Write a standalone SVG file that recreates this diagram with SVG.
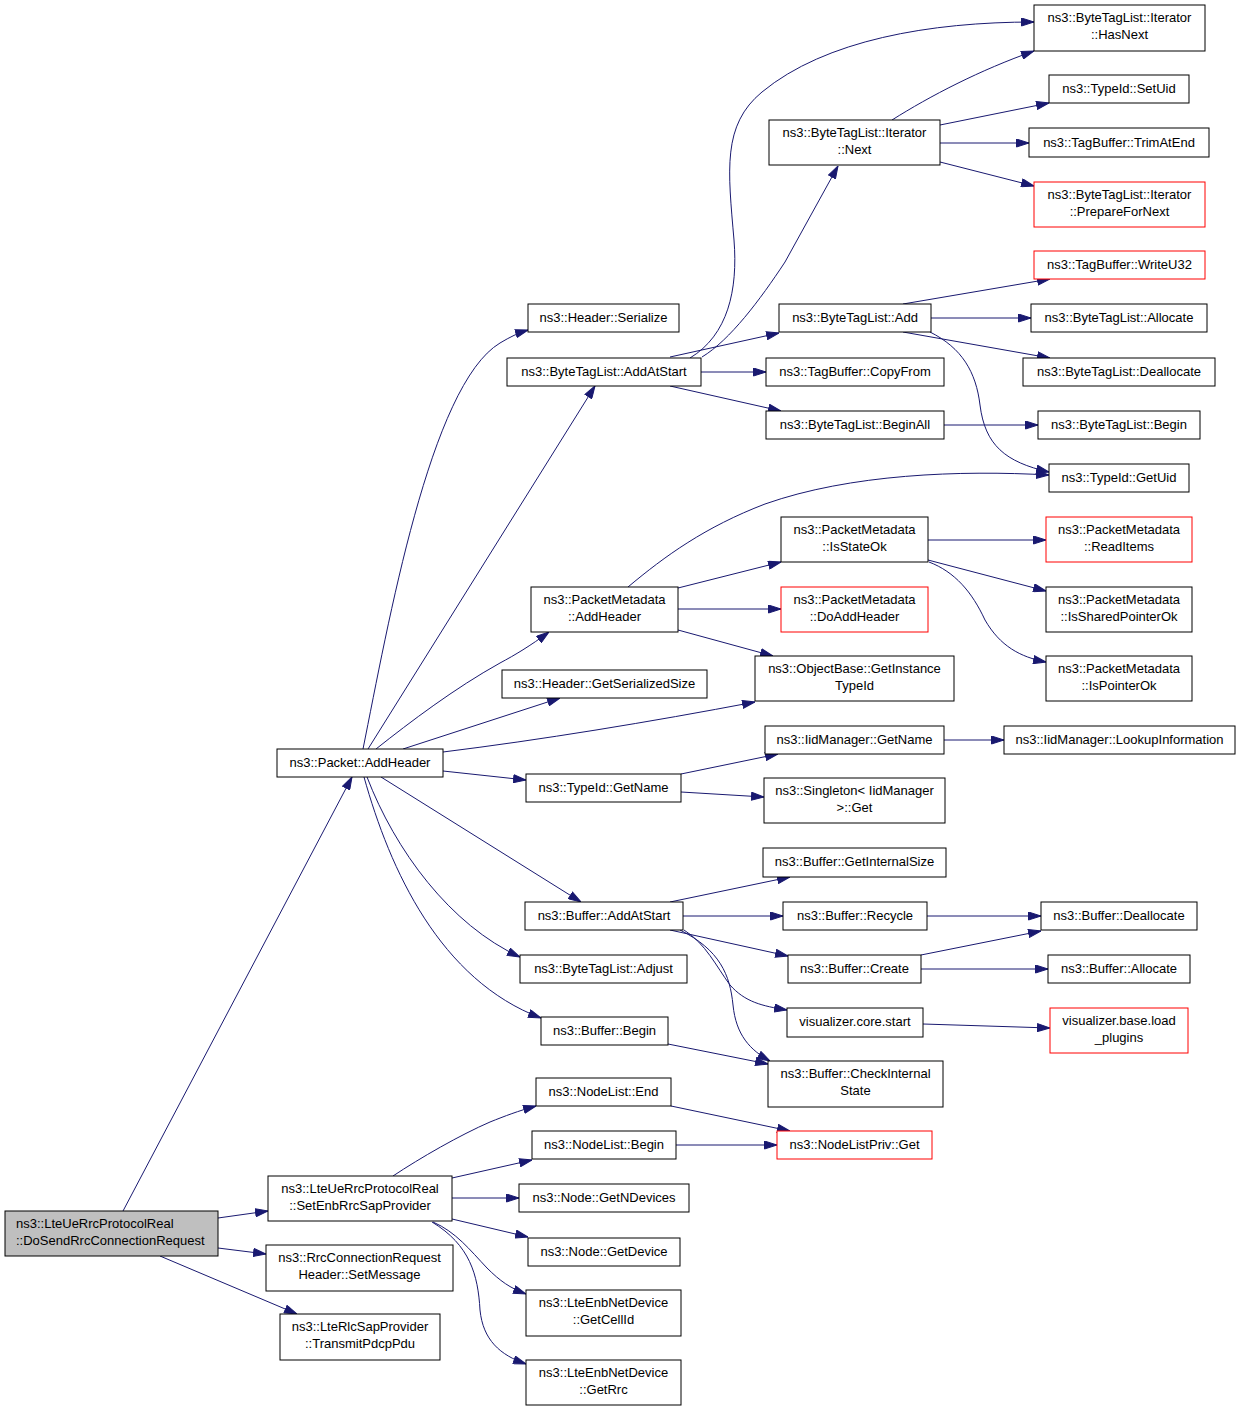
<svg xmlns="http://www.w3.org/2000/svg" width="1240" height="1411" viewBox="0 0 1240 1411">
<style>
.node rect{fill:#ffffff;stroke:#000000;stroke-width:1}
.node.root rect{fill:#bfbfbf}
.node.red rect{stroke:#ff0000}
.node text{font-family:"Liberation Sans",Arial,sans-serif;font-size:13px;fill:#000000;text-anchor:middle}
.node.root text{text-anchor:start}
.edges path{fill:none;stroke:#191970;stroke-width:1;marker-end:url(#arr)}
</style>
<defs>
<marker id="arr" viewBox="0 0 13 9" markerWidth="13" markerHeight="9" refX="13" refY="4.5" orient="auto" markerUnits="userSpaceOnUse">
<path d="M0.5,0.5 L13,4.5 L0.5,8.5 z" fill="#191970" stroke="#191970" stroke-width="1"/>
</marker>
</defs>
<rect x="0" y="0" width="1240" height="1411" fill="#ffffff"/>
<g class="edges">
<path d="M123,1211 L352,777"/>
<path d="M218,1218 L268,1211"/>
<path d="M218,1248 L266,1254"/>
<path d="M160,1256 L297,1314"/>
<path d="M363,749 C388,625 430,385 500,343 C510,337 518,333 528,330"/>
<path d="M368,749 L595,386"/>
<path d="M376,749 C410,722 455,688 500,663 C515,655 530,646 549,632"/>
<path d="M403,749 L560,698"/>
<path d="M443,752 C540,740 650,722 755,702"/>
<path d="M443,771 L526,780"/>
<path d="M381,777 L581,902"/>
<path d="M367,777 C395,850 450,925 520,957"/>
<path d="M364,777 C390,870 440,980 541,1018"/>
<path d="M690,358 C728,335 738,290 734,240 C728,170 722,125 762,92 C825,40 930,22 1034,22"/>
<path d="M702,357 C730,340 760,300 785,262 L838,166"/>
<path d="M670,357 L779,333"/>
<path d="M701,372 L766,372"/>
<path d="M670,386 L781,411"/>
<path d="M892,120 C930,96 980,70 1034,51"/>
<path d="M940,125 L1049,103"/>
<path d="M940,143 L1029,143"/>
<path d="M940,162 L1034,186"/>
<path d="M903,304 L1050,279"/>
<path d="M931,318 L1031,318"/>
<path d="M903,332 L1050,358"/>
<path d="M930,332 C962,348 976,372 980,405 C985,445 1005,462 1049,472"/>
<path d="M944,425 L1038,425"/>
<path d="M628,587 C665,556 705,527 765,504 C850,474 960,470 1049,475"/>
<path d="M678,588 L781,562"/>
<path d="M678,609 L781,609"/>
<path d="M678,630 L773,656"/>
<path d="M928,540 L1046,540"/>
<path d="M928,560 L1046,591"/>
<path d="M929,562 C955,572 972,592 985,620 C1000,646 1020,657 1046,662"/>
<path d="M681,774 L778,754"/>
<path d="M681,792 L764,797"/>
<path d="M944,740 L1004,740"/>
<path d="M670,902 L790,877"/>
<path d="M683,916 L783,916"/>
<path d="M670,930 L788,956"/>
<path d="M684,930 C706,944 716,966 730,985 C745,1002 762,1006 787,1010"/>
<path d="M680,930 C720,950 730,975 733,1005 C736,1035 750,1050 770,1061"/>
<path d="M927,916 L1041,916"/>
<path d="M921,955 L1041,931"/>
<path d="M921,969 L1048,969"/>
<path d="M923,1024 L1050,1028"/>
<path d="M668,1044 L768,1064"/>
<path d="M393,1176 C420,1158 460,1135 490,1122 C505,1116 518,1111 536,1106"/>
<path d="M452,1178 L532,1160"/>
<path d="M452,1198 L519,1198"/>
<path d="M452,1219 L528,1237"/>
<path d="M433,1222 C456,1232 470,1250 487,1268 C500,1281 510,1288 526,1294"/>
<path d="M432,1222 C470,1245 478,1275 480,1310 C483,1340 500,1355 526,1364"/>
<path d="M671,1106 L790,1131"/>
<path d="M676,1145 L777,1145"/>
</g>
<g id="node1" class="node root"><rect x="5" y="1211" width="213" height="45"/><text x="16" y="1228">ns3::LteUeRrcProtocolReal</text><text x="16" y="1245">::DoSendRrcConnectionRequest</text></g>
<g id="node2" class="node"><rect x="268" y="1176" width="184" height="45"/><text x="360" y="1193">ns3::LteUeRrcProtocolReal</text><text x="360" y="1210">::SetEnbRrcSapProvider</text></g>
<g id="node3" class="node"><rect x="266" y="1245" width="187" height="46"/><text x="359.5" y="1262">ns3::RrcConnectionRequest</text><text x="359.5" y="1279">Header::SetMessage</text></g>
<g id="node4" class="node"><rect x="280" y="1314" width="160" height="46"/><text x="360" y="1331">ns3::LteRlcSapProvider</text><text x="360" y="1348">::TransmitPdcpPdu</text></g>
<g id="node5" class="node"><rect x="277" y="749" width="166" height="28"/><text x="360" y="767">ns3::Packet::AddHeader</text></g>
<g id="node6" class="node"><rect x="528" y="304" width="151" height="28"/><text x="603.5" y="322">ns3::Header::Serialize</text></g>
<g id="node7" class="node"><rect x="507" y="358" width="194" height="28"/><text x="604" y="376">ns3::ByteTagList::AddAtStart</text></g>
<g id="node8" class="node"><rect x="1034" y="5" width="171" height="46"/><text x="1119.5" y="22">ns3::ByteTagList::Iterator</text><text x="1119.5" y="39">::HasNext</text></g>
<g id="node9" class="node"><rect x="1049" y="75" width="140" height="28"/><text x="1119" y="93">ns3::TypeId::SetUid</text></g>
<g id="node10" class="node"><rect x="769" y="120" width="171" height="45"/><text x="854.5" y="137">ns3::ByteTagList::Iterator</text><text x="854.5" y="154">::Next</text></g>
<g id="node11" class="node"><rect x="1029" y="128" width="180" height="29"/><text x="1119" y="146.5">ns3::TagBuffer::TrimAtEnd</text></g>
<g id="node12" class="node red"><rect x="1034" y="182" width="171" height="45"/><text x="1119.5" y="199">ns3::ByteTagList::Iterator</text><text x="1119.5" y="216">::PrepareForNext</text></g>
<g id="node13" class="node red"><rect x="1034" y="251" width="171" height="28"/><text x="1119.5" y="269">ns3::TagBuffer::WriteU32</text></g>
<g id="node14" class="node"><rect x="779" y="304" width="152" height="28"/><text x="855" y="322">ns3::ByteTagList::Add</text></g>
<g id="node15" class="node"><rect x="1031" y="304" width="176" height="28"/><text x="1119" y="322">ns3::ByteTagList::Allocate</text></g>
<g id="node16" class="node"><rect x="766" y="358" width="178" height="28"/><text x="855" y="376">ns3::TagBuffer::CopyFrom</text></g>
<g id="node17" class="node"><rect x="1023" y="358" width="192" height="28"/><text x="1119" y="376">ns3::ByteTagList::Deallocate</text></g>
<g id="node18" class="node"><rect x="766" y="411" width="178" height="28"/><text x="855" y="429">ns3::ByteTagList::BeginAll</text></g>
<g id="node19" class="node"><rect x="1038" y="411" width="162" height="28"/><text x="1119" y="429">ns3::ByteTagList::Begin</text></g>
<g id="node20" class="node"><rect x="1049" y="464" width="140" height="28"/><text x="1119" y="482">ns3::TypeId::GetUid</text></g>
<g id="node21" class="node"><rect x="781" y="517" width="147" height="45"/><text x="854.5" y="534">ns3::PacketMetadata</text><text x="854.5" y="551">::IsStateOk</text></g>
<g id="node22" class="node red"><rect x="1046" y="517" width="146" height="45"/><text x="1119" y="534">ns3::PacketMetadata</text><text x="1119" y="551">::ReadItems</text></g>
<g id="node23" class="node"><rect x="531" y="587" width="147" height="45"/><text x="604.5" y="604">ns3::PacketMetadata</text><text x="604.5" y="621">::AddHeader</text></g>
<g id="node24" class="node red"><rect x="781" y="587" width="147" height="45"/><text x="854.5" y="604">ns3::PacketMetadata</text><text x="854.5" y="621">::DoAddHeader</text></g>
<g id="node25" class="node"><rect x="1046" y="587" width="146" height="45"/><text x="1119" y="604">ns3::PacketMetadata</text><text x="1119" y="621">::IsSharedPointerOk</text></g>
<g id="node26" class="node"><rect x="502" y="670" width="205" height="28"/><text x="604.5" y="688">ns3::Header::GetSerializedSize</text></g>
<g id="node27" class="node"><rect x="755" y="656" width="199" height="45"/><text x="854.5" y="673">ns3::ObjectBase::GetInstance</text><text x="854.5" y="690">TypeId</text></g>
<g id="node28" class="node"><rect x="1046" y="656" width="146" height="45"/><text x="1119" y="673">ns3::PacketMetadata</text><text x="1119" y="690">::IsPointerOk</text></g>
<g id="node29" class="node"><rect x="765" y="726" width="179" height="28"/><text x="854.5" y="744">ns3::IidManager::GetName</text></g>
<g id="node30" class="node"><rect x="1004" y="726" width="231" height="28"/><text x="1119.5" y="744">ns3::IidManager::LookupInformation</text></g>
<g id="node31" class="node"><rect x="526" y="774" width="155" height="28"/><text x="603.5" y="792">ns3::TypeId::GetName</text></g>
<g id="node32" class="node"><rect x="764" y="778" width="181" height="45"/><text x="854.5" y="795">ns3::Singleton&lt; IidManager</text><text x="854.5" y="812">&gt;::Get</text></g>
<g id="node33" class="node"><rect x="763" y="848" width="183" height="29"/><text x="854.5" y="866">ns3::Buffer::GetInternalSize</text></g>
<g id="node34" class="node"><rect x="525" y="902" width="158" height="28"/><text x="604" y="920">ns3::Buffer::AddAtStart</text></g>
<g id="node35" class="node"><rect x="783" y="902" width="144" height="28"/><text x="855" y="920">ns3::Buffer::Recycle</text></g>
<g id="node36" class="node"><rect x="1041" y="902" width="156" height="28"/><text x="1119" y="920">ns3::Buffer::Deallocate</text></g>
<g id="node37" class="node"><rect x="520" y="955" width="167" height="28"/><text x="603.5" y="973">ns3::ByteTagList::Adjust</text></g>
<g id="node38" class="node"><rect x="788" y="955" width="133" height="28"/><text x="854.5" y="973">ns3::Buffer::Create</text></g>
<g id="node39" class="node"><rect x="1048" y="955" width="142" height="28"/><text x="1119" y="973">ns3::Buffer::Allocate</text></g>
<g id="node40" class="node"><rect x="787" y="1008" width="136" height="29"/><text x="855" y="1026">visualizer.core.start</text></g>
<g id="node41" class="node red"><rect x="1050" y="1008" width="138" height="45"/><text x="1119" y="1025">visualizer.base.load</text><text x="1119" y="1042">_plugins</text></g>
<g id="node42" class="node"><rect x="541" y="1017" width="127" height="28"/><text x="604.5" y="1035">ns3::Buffer::Begin</text></g>
<g id="node43" class="node"><rect x="768" y="1061" width="175" height="46"/><text x="855.5" y="1078">ns3::Buffer::CheckInternal</text><text x="855.5" y="1095">State</text></g>
<g id="node44" class="node"><rect x="536" y="1078" width="135" height="28"/><text x="603.5" y="1096">ns3::NodeList::End</text></g>
<g id="node45" class="node"><rect x="532" y="1131" width="144" height="28"/><text x="604" y="1149">ns3::NodeList::Begin</text></g>
<g id="node46" class="node red"><rect x="777" y="1131" width="155" height="28"/><text x="854.5" y="1149">ns3::NodeListPriv::Get</text></g>
<g id="node47" class="node"><rect x="519" y="1184" width="170" height="28"/><text x="604" y="1202">ns3::Node::GetNDevices</text></g>
<g id="node48" class="node"><rect x="528" y="1238" width="152" height="28"/><text x="604" y="1256">ns3::Node::GetDevice</text></g>
<g id="node49" class="node"><rect x="526" y="1290" width="155" height="46"/><text x="603.5" y="1307">ns3::LteEnbNetDevice</text><text x="603.5" y="1324">::GetCellId</text></g>
<g id="node50" class="node"><rect x="526" y="1360" width="155" height="45"/><text x="603.5" y="1377">ns3::LteEnbNetDevice</text><text x="603.5" y="1394">::GetRrc</text></g>
</svg>
